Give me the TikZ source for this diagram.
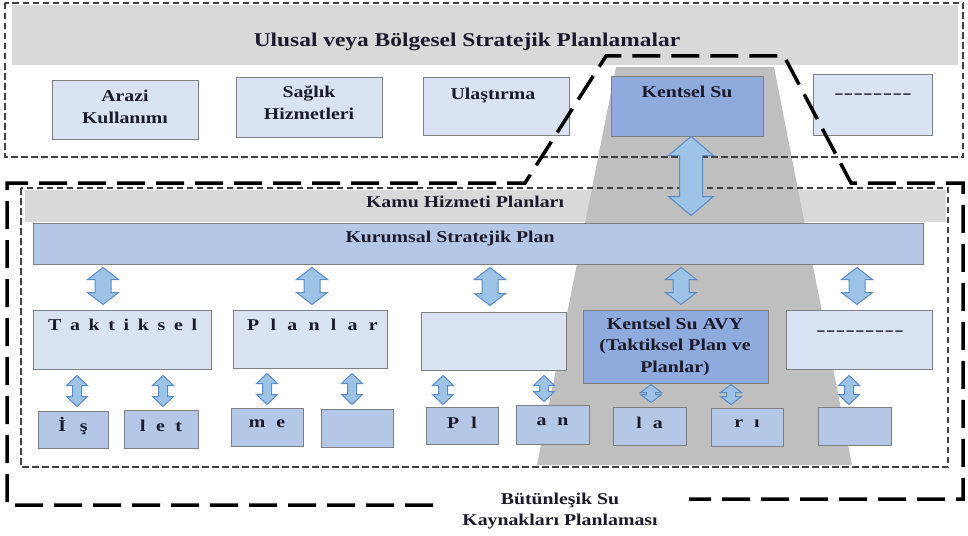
\documentclass[tikz,border=0pt]{standalone}
\usepackage{fontspec}
\setmainfont{Liberation Serif}[FakeStretch=1.2]
\newfontfamily\dashfont{Liberation Serif}[FakeStretch=1.7]
\usetikzlibrary{fit,calc}
\definecolor{lblue}{HTML}{DAE3F3}
\definecolor{mblue}{HTML}{B4C7E7}
\definecolor{dblue}{HTML}{8FAADC}
\definecolor{bandgray}{HTML}{D9D9D9}
\definecolor{trapgray}{HTML}{BFBFBF}
\definecolor{arrfill}{HTML}{9DC3E6}
\definecolor{arrline}{HTML}{5B8CC8}
\definecolor{boxline}{HTML}{7F7F7F}
\definecolor{txtcol}{HTML}{1A1A2A}
\newcommand\lsp[1]{\hspace{#1pt}}
\newcommand\hy{-\kern0.4pt}
% double block arrow: x, top anchor, bottom anchor, gap top, gap bottom, head half width, shaft half width, head length
\newcommand\dblarrow[8]{%
\draw[arrowsty] let \p1=(#2), \p2=(#3) in
 (#1pt,{\y1-#4pt})
 -- ({#1pt+#6pt},{\y1-#4pt-#8pt}) -- ({#1pt+#7pt},{\y1-#4pt-#8pt})
 -- ({#1pt+#7pt},{\y2+#5pt+#8pt}) -- ({#1pt+#6pt},{\y2+#5pt+#8pt})
 -- (#1pt,{\y2+#5pt})
 -- ({#1pt-#6pt},{\y2+#5pt+#8pt}) -- ({#1pt-#7pt},{\y2+#5pt+#8pt})
 -- ({#1pt-#7pt},{\y1-#4pt-#8pt}) -- ({#1pt-#6pt},{\y1-#4pt-#8pt}) -- cycle;}
\tikzset{
 box/.style={draw=boxline, line width=1pt, inner sep=0pt, fit={#1}},
 lbox/.style={box={#1}, fill=lblue},
 mbox/.style={box={#1}, fill=mblue},
 dbox/.style={box={#1}, fill=dblue},
 band/.style={fill=bandgray, draw=none, inner sep=0pt, fit={#1}},
 txt/.style={font=\bfseries\fontsize{16.5}{21.5}\selectfont, inner sep=0pt, align=center, text=txtcol},
 dtxt/.style={font=\dashfont\bfseries\fontsize{16.5}{21.5}\selectfont, inner sep=0pt, text=txtcol},
 ttl/.style={font=\bfseries\fontsize{19.5}{23}\selectfont, inner sep=0pt, text=txtcol},
 thindash/.style={draw=black!75, line width=1.3pt, dash pattern=on 6.5pt off 3.5pt},
 thickdash/.style={draw=black, line width=3.5pt, dash pattern=on 28pt off 11pt},
 arrowsty/.style={fill=arrfill, draw=arrline, line width=1pt, line join=miter},
}
\begin{document}
\begin{tikzpicture}[x=1pt,y=-1pt]
\useasboundingbox[fill=white] (0,0) rectangle (968,535);
% bands
\node[band={(12,5) (958,65)}] (topband) {};
\node[band={(25,190) (946,222)}] (kamuband) {};
% funnel
\fill[trapgray] (616,67) -- (774,67) -- (852,465) -- (537,465) -- cycle;
% thin dashed frames
\draw[thindash] (5,3) rectangle (963,157);
\draw[thindash] (21,188) rectangle (948,467);
% top row boxes
\node[lbox={(52,80) (198,139)}] (arazi) {};
\node[lbox={(236,77) (382,137)}] (saglik) {};
\node[lbox={(423,77) (569,135)}] (ulas) {};
\node[dbox={(611,76) (763,136)}] (kentsel) {};
\node[lbox={(813,74) (932,135)}] (dash1) {};
% middle
\node[mbox={(33,223) (923,264)}] (kur) {};
\node[lbox={(33,310) (211,369)}] (t1) {};
\node[lbox={(233,310) (387,368)}] (t2) {};
\node[lbox={(421,312) (566,370)}] (t3) {};
\node[dbox={(583,310) (768,383)}] (t4) {};
\node[lbox={(786,310) (932,369)}] (t5) {};
% bottom
\node[mbox={(38,411) (108,448)}] (b1) {};
\node[mbox={(124,410) (198,448)}] (b2) {};
\node[mbox={(231,408) (303,446)}] (b3) {};
\node[mbox={(321,409) (393,447)}] (b4) {};
\node[mbox={(426,407) (498,444)}] (b5) {};
\node[mbox={(516,405) (589,444)}] (b6) {};
\node[mbox={(613,407) (686,445)}] (b7) {};
\node[mbox={(711,408) (783,446)}] (b8) {};
\node[mbox={(818,407) (891,445)}] (b9) {};
% arrows
\dblarrow{691}{kentsel.south}{kur.north}{0}{7}{22.5}{11.5}{19}
\dblarrow{103}{kur.south}{t1.north}{3}{5}{15.5}{8}{12}
\dblarrow{312}{kur.south}{t2.north}{3}{5}{15.5}{8}{12}
\dblarrow{490}{kur.south}{t3.north}{3}{6}{15.5}{8}{12}
\dblarrow{681}{kur.south}{t4.north}{3}{5}{15.5}{8}{12}
\dblarrow{857}{kur.south}{t5.north}{3}{5}{15.5}{8}{12}
\dblarrow{77}{t1.south}{b1.north}{6}{4}{10.5}{4.5}{10}
\dblarrow{163}{t1.south}{b2.north}{6}{3}{10.5}{4.5}{10}
\dblarrow{267}{t2.south}{b3.north}{5}{3}{10.5}{4.5}{10}
\dblarrow{352}{t2.south}{b4.north}{5}{4}{10.5}{4.5}{10}
\dblarrow{443}{t3.south}{b5.north}{5}{2}{10.5}{4.5}{10}
\dblarrow{544}{t3.south}{b6.north}{5}{3}{10.5}{4.5}{10}
\dblarrow{651}{t4.south}{b7.north}{1}{4}{10.5}{4.5}{8}
\dblarrow{731}{t4.south}{b8.north}{1}{3}{10.5}{4.5}{8}
\dblarrow{849}{t5.south}{b9.north}{6}{2}{10.5}{4.5}{10}
% thick dashed outline
\draw[thickdash] (433,505) -- (7,505) -- (7,183) -- (525,183) -- (606,56) -- (784,56) -- (851,183) -- (963,183) -- (963,499) -- (689,499);
% texts
\node[ttl] (ttitle) at (467,42) {Ulusal veya Bölgesel Stratejik Planlamalar};
\node[txt] (tarazi) at (125,107) {Arazi\\Kullanımı};
\node[txt] (tsaglik) at (309,103) {Sağlık\\Hizmetleri};
\node[txt] (tulas) at (493,95) {Ulaştırma};
\node[txt] (tkentsel) at (687,92) {Kentsel Su};
\node[dtxt] (tdash1) at (873,96) {\hy\hy\hy\hy\hy\hy\hy-};
\node[txt] (tkamu) at (465,202) {Kamu Hizmeti Planları};
\node[txt] (tkur) at (450,239) {Kurumsal Stratejik Plan};
\node[txt, anchor=west] (tt1) at (48,325) {T\lsp{8.7}a\lsp{8.7}k\lsp{8.7}t\lsp{8.7}i\lsp{8.7}k\lsp{8.7}s\lsp{8.7}e\lsp{8.7}l};
\node[txt, anchor=west] (tt2) at (247,325) {P\lsp{11.3}l\lsp{11.3}a\lsp{11.3}n\lsp{11.3}l\lsp{11.3}a\lsp{11.3}r};
\node[txt] (tt4) at (675,347) {Kentsel Su AVY\\(Taktiksel Plan ve\\Planlar)};
\node[dtxt] (tt5) at (860,333) {\hy\hy\hy\hy\hy\hy\hy\hy-};
\node[txt] (tb1) at ([yshift=3pt]b1.center) {İ\lsp{14}ş};
\node[txt] (tb2) at ([yshift=3pt]b2.center) {l\lsp{10.5}e\lsp{10.5}t};
\node[txt] (tb3) at ([yshift=3pt]b3.center) {m\lsp{11}e};
\node[txt] (tb5) at ([yshift=3pt]b5.center) {P\lsp{12}l};
\node[txt] (tb6) at ([yshift=3pt]b6.center) {a\lsp{11}n};
\node[txt] (tb7) at ([yshift=3pt]b7.center) {l\lsp{11}a};
\node[txt] (tb8) at ([yshift=3pt]b8.center) {r\lsp{11}ı};
\node[txt] (tbsu) at (560,511) {Bütünleşik Su\\Kaynakları Planlaması};
\end{tikzpicture}
\end{document}
